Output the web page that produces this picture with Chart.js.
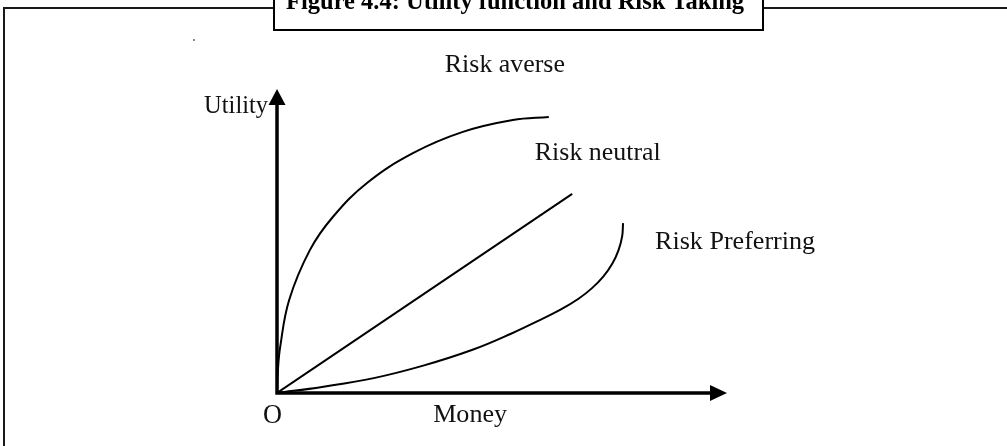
<!DOCTYPE html>
<html lang="en">
<head>
<meta charset="UTF-8">
<title>Utility function and Risk Taking</title>
<script src="https://cdn.jsdelivr.net/npm/chart.js@4.4.1/dist/chart.umd.min.js"></script>
<style>
  body { margin: 0; background: #fff; }
  canvas { display: block; }
</style>
</head>
<body>
<canvas id="chart" width="1007" height="446"></canvas>
<script>
// texts
const figureTitle = 'Figure 4.4: Utility function and Risk Taking';
const xAxisLabel = 'Money';
const yAxisLabel = 'Utility';
const originLabel = 'O';
const curveNames = ['Risk averse', 'Risk neutral', 'Risk Preferring'];

// curves, money on x and utility on y, both 0..100
const riskAverseX = [0, 0.2, 0.7, 2.7, 7.3, 12.4, 20.0, 30.2, 41.3, 52.4, 60.4];
const riskAverseY = [0, 7.5, 15.1, 30.6, 47.0, 57.9, 69.1, 78.9, 85.9, 89.8, 90.8];

const riskNeutralX = [0, 65.6];
const riskNeutralY = [0, 65.5];

const riskPreferX = [0, 10, 21.5, 32.5, 43.6, 52, 58.4, 63, 67, 70, 72.5, 74.5, 75.9, 76.7, 76.9];
const riskPreferY = [0, 2, 4.9, 9.0, 14.3, 19.5, 24.0, 27.4, 31, 34.5, 38.3, 42.5, 47, 51.5, 55.9];

function toPoints(xs, ys) {
  return xs.map((x, i) => ({ x: x, y: ys[i] }));
}

const SERIF = '"Liberation Serif", "Times New Roman", serif';

// font size so that the text gets the wanted width
function fitFont(ctx, text, width, weight) {
  ctx.font = weight + ' 100px ' + SERIF;
  const size = 100 * width / ctx.measureText(text).width;
  return weight + ' ' + size.toFixed(1) + 'px ' + SERIF;
}

// frame, title box and arrowed axes
const figurePlugin = {
  id: 'figure',
  beforeDatasetsDraw(chart) {
    const ctx = chart.ctx;
    const xs = chart.scales.x, ys = chart.scales.y;
    const x0 = xs.getPixelForValue(0), y0 = ys.getPixelForValue(0);
    const xEnd = xs.getPixelForValue(100), yEnd = ys.getPixelForValue(100);
    ctx.save();

    // outer frame (top and left only)
    ctx.strokeStyle = '#1a1a1a';
    ctx.lineWidth = 2;
    ctx.beginPath();
    ctx.moveTo(4, 446);
    ctx.lineTo(4, 8);
    ctx.lineTo(1007, 8);
    ctx.stroke();

    // tiny speck near top left
    ctx.fillStyle = '#888';
    ctx.fillRect(193, 39, 2, 2);

    // title box
    ctx.fillStyle = '#fff';
    ctx.fillRect(273, -2, 491, 33);
    ctx.strokeStyle = '#000';
    ctx.strokeRect(274, -2, 489, 32);
    ctx.fillStyle = '#000';
    ctx.font = fitFont(ctx, figureTitle, 459, 'bold');
    ctx.textAlign = 'left';
    ctx.textBaseline = 'alphabetic';
    ctx.fillText(figureTitle, 286, 9);

    // axes
    ctx.strokeStyle = '#000';
    ctx.lineWidth = 3.5;
    ctx.beginPath();
    ctx.moveTo(x0, y0 + 1.75);
    ctx.lineTo(x0, yEnd + 15);
    ctx.moveTo(x0 - 1.75, y0);
    ctx.lineTo(xEnd - 16, y0);
    ctx.stroke();

    ctx.fillStyle = '#000';
    ctx.beginPath();
    ctx.moveTo(x0, yEnd);
    ctx.lineTo(x0 - 8.5, yEnd + 16);
    ctx.lineTo(x0 + 8.5, yEnd + 16);
    ctx.closePath();
    ctx.fill();
    ctx.beginPath();
    ctx.moveTo(xEnd, y0);
    ctx.lineTo(xEnd - 17, y0 - 8);
    ctx.lineTo(xEnd - 17, y0 + 8);
    ctx.closePath();
    ctx.fill();
    ctx.restore();
  },
  afterDatasetsDraw(chart) {
    const ctx = chart.ctx;
    const xs = chart.scales.x, ys = chart.scales.y;
    // [text, x value, y value (baseline), width px]
    const labels = [
      [curveNames[0], 37.3, 105.6, 120],
      [curveNames[1], 57.3, 76.6, 126],
      [curveNames[2], 84.0, 47.4, 160],
      [yAxisLabel, -16.2, 92.1, 64],
      [xAxisLabel, 34.7, -9.5, 74],
      [originLabel, -3.1, -9.9, 19]
    ];
    ctx.save();
    ctx.fillStyle = '#111';
    ctx.textAlign = 'left';
    ctx.textBaseline = 'alphabetic';
    labels.forEach(l => {
      ctx.font = fitFont(ctx, l[0], l[3], 'normal');
      ctx.fillText(l[0], xs.getPixelForValue(l[1]), ys.getPixelForValue(l[2]));
    });
    ctx.restore();
  }
};

const lineStyle = {
  showLine: true,
  borderColor: '#000',
  borderWidth: 2,
  pointRadius: 0,
  fill: false
};

new Chart(document.getElementById('chart').getContext('2d'), {
  type: 'scatter',
  data: {
    datasets: [
      Object.assign({ label: curveNames[0], data: toPoints(riskAverseX, riskAverseY), tension: 0.4 }, lineStyle),
      Object.assign({ label: curveNames[1], data: toPoints(riskNeutralX, riskNeutralY), tension: 0 }, lineStyle),
      Object.assign({ label: curveNames[2], data: toPoints(riskPreferX, riskPreferY), tension: 0.4 }, lineStyle)
    ]
  },
  options: {
    responsive: false,
    animation: false,
    layout: { padding: { left: 277, right: 280, top: 89, bottom: 53 } },
    scales: {
      x: { type: 'linear', min: 0, max: 100, display: false },
      y: { type: 'linear', min: 0, max: 100, display: false }
    },
    plugins: {
      legend: { display: false },
      tooltip: { enabled: false }
    }
  },
  plugins: [figurePlugin]
});
</script>
</body>
</html>
